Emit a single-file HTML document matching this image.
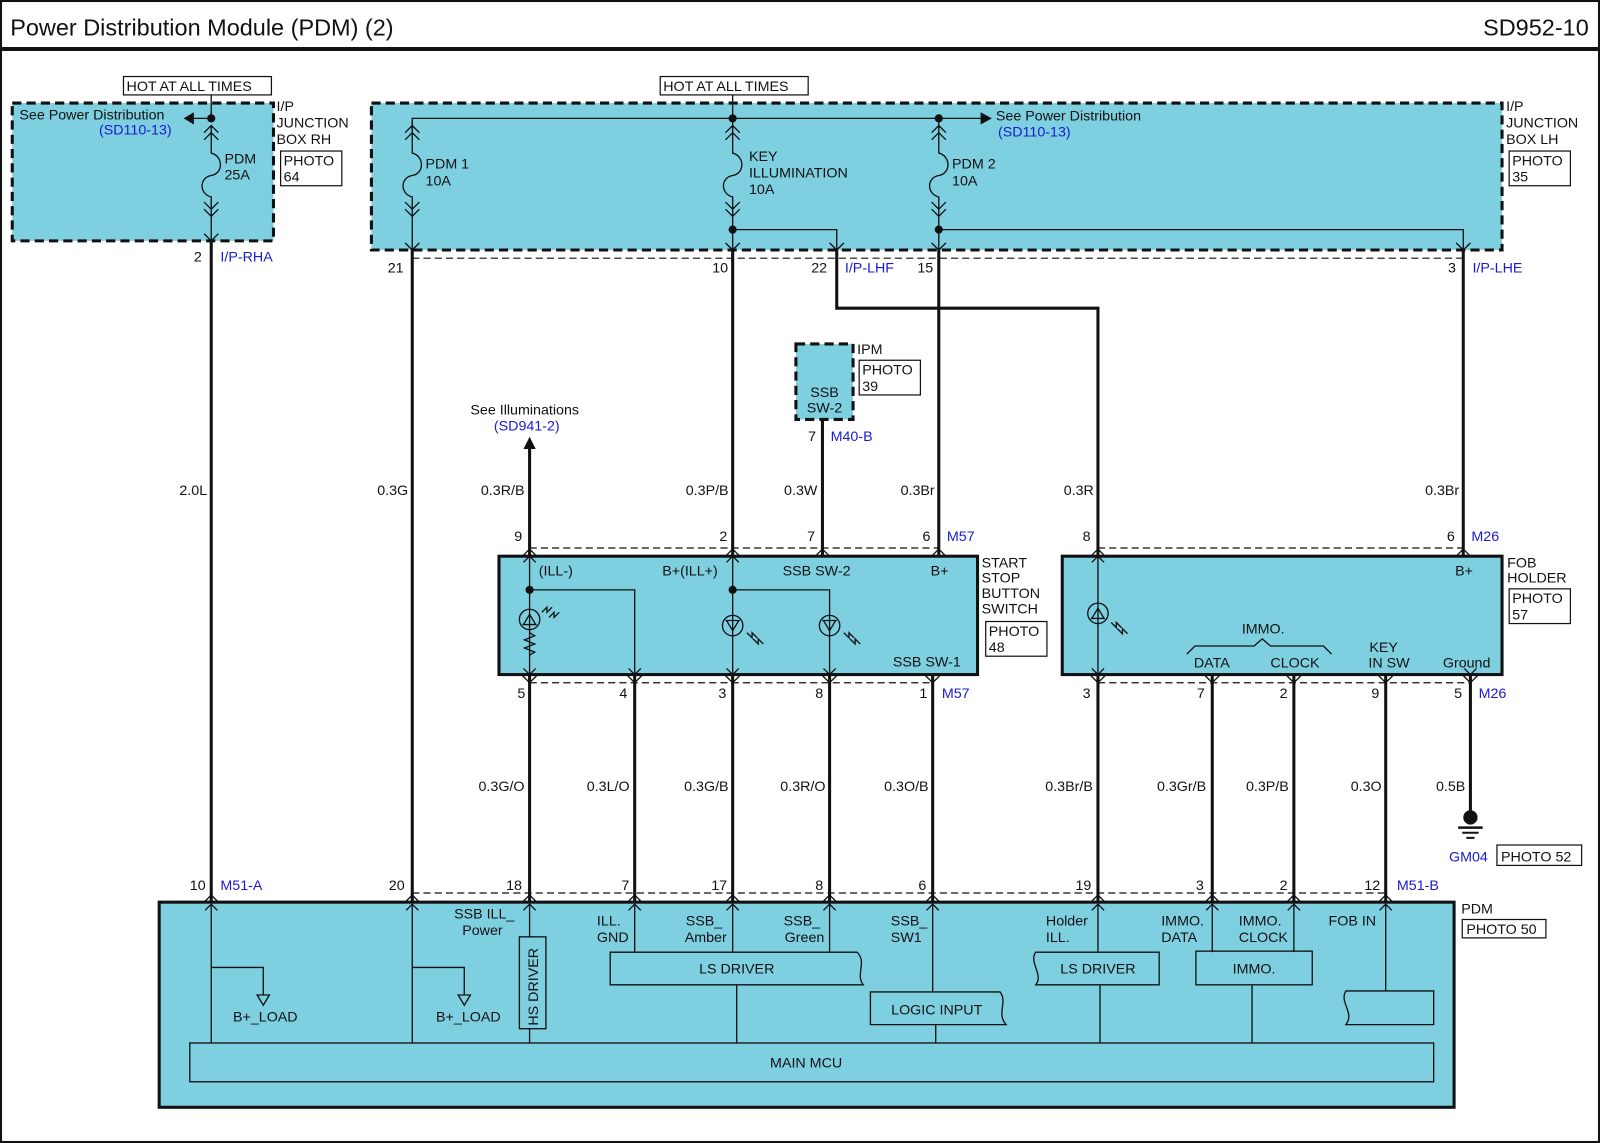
<!DOCTYPE html>
<html><head><meta charset="utf-8"><style>
html,body{margin:0;padding:0;background:#fff}
svg{display:block}
text{font-family:"Liberation Sans",sans-serif;font-size:14px;fill:#111}
.b{fill:#1a1ad0}
.w{stroke:#111;stroke-width:3;fill:none}
.t{stroke:#111;stroke-width:1.3;fill:none}
.d{stroke:#111;stroke-width:1.2;fill:none;stroke-dasharray:7 4}
.box{fill:#7ecfe0;stroke:#111;stroke-width:3}
.dbox{fill:#7ecfe0;stroke:#111;stroke-width:3;stroke-dasharray:9 5}
.lab{fill:#fff;stroke:#111;stroke-width:1.2}
.ib{fill:none;stroke:#111;stroke-width:1.3}
</style></head><body>
<svg width="1600" height="1143" viewBox="0 0 1568 1120" preserveAspectRatio="none">
<rect x="1" y="1" width="1566" height="1118" fill="#fff" stroke="#111" stroke-width="2"/>
<line x1="0" y1="48" x2="1568" y2="48" stroke="#111" stroke-width="4"/>
<text x="10" y="35" style="font-size:23px">Power Distribution Module (PDM) (2)</text>
<text x="1557" y="35" style="font-size:23px" text-anchor="end">SD952-10</text>

<rect class="dbox" x="12" y="101" width="256" height="135"/>
<rect class="lab" x="121" y="75" width="145" height="18"/><text x="124" y="89">HOT AT ALL TIMES</text>
<text x="271" y="109">I/P</text><text x="271" y="125">JUNCTION</text><text x="271" y="141">BOX RH</text>
<rect class="lab" x="275" y="148" width="60" height="34"/><text x="278" y="162">PHOTO</text><text x="278" y="178">64</text>
<text x="19" y="117">See Power Distribution</text><text class="b" x="97" y="132">(SD110-13)</text>
<line class="t" x1="207" y1="93" x2="207" y2="118"/><line class="t" x1="207" y1="116" x2="186" y2="116"/>
<polygon points="180,116 190,110 190,122" fill="#111"/><circle cx="207" cy="116" r="4" fill="#111"/>
<text x="220" y="160">PDM</text><text x="220" y="176">25A</text>
<rect class="dbox" x="364" y="101" width="1108" height="144"/>
<rect class="lab" x="647" y="75" width="145" height="18"/><text x="650" y="89">HOT AT ALL TIMES</text>
<text x="1476" y="109">I/P</text><text x="1476" y="125">JUNCTION</text><text x="1476" y="141">BOX LH</text>
<rect class="lab" x="1479" y="148" width="60" height="34"/><text x="1482" y="162">PHOTO</text><text x="1482" y="178">35</text>
<line class="t" x1="718" y1="93" x2="718" y2="118"/>
<polyline class="t" points="404,128 404,116 962,116"/>
<polygon points="972,116 961,110 961,122" fill="#111"/>
<circle cx="718" cy="116" r="4" fill="#111"/><circle cx="920" cy="116" r="4" fill="#111"/>
<text x="976" y="118">See Power Distribution</text><text class="b" x="978" y="134">(SD110-13)</text>
<text x="417" y="165">PDM 1</text><text x="417" y="182">10A</text>
<text x="734" y="158">KEY</text><text x="734" y="174">ILLUMINATION</text><text x="734" y="190">10A</text>
<text x="933" y="165">PDM 2</text><text x="933" y="182">10A</text>
<g class="t">
<path d="M200 130 L207 123 L214 130 M200 137 L207 130 L214 137 M207 123 V150 C219 153 219 170 207 172 C195 174 195 190 207 193 V212 M200 198 L207 205 L214 198 M200 205 L207 212 L214 205 M207 205 V236"/>
<path d="M397 130 L404 123 L411 130 M397 137 L404 130 L411 137 M404 118 V150 C416 153 416 170 404 172 C392 174 392 190 404 193 V212 M397 198 L404 205 L411 198 M397 205 L404 212 L411 205 M404 205 V245"/>
<path d="M711 130 L718 123 L725 130 M711 137 L718 130 L725 137 M718 118 V150 C730 153 730 170 718 172 C706 174 706 190 718 193 V212 M711 198 L718 205 L725 198 M711 205 L718 212 L725 205 M718 205 V245"/>
<path d="M913 130 L920 123 L927 130 M913 137 L920 130 L927 137 M920 118 V150 C932 153 932 170 920 172 C908 174 908 190 920 193 V212 M913 198 L920 205 L927 198 M913 205 L920 212 L927 205 M920 205 V245"/>
<polyline points="718,225 820,225 820,245"/><polyline points="920,225 1434,225 1434,245"/>
<path d="M200 229 L207 236 L214 229 M397 238 L404 245 L411 238 M711 238 L718 245 L725 238 M813 238 L820 245 L827 238 M913 238 L920 245 L927 238 M1427 238 L1434 245 L1441 238"/>
</g>
<circle cx="718" cy="225" r="4" fill="#111"/><circle cx="920" cy="225" r="4" fill="#111"/>
<line class="d" x1="404" y1="253" x2="1434" y2="253"/>
<text x="190" y="256">2</text><text class="b" x="216" y="256">I/P-RHA</text>
<text x="380" y="267">21</text><text x="698" y="267">10</text><text x="795" y="267">22</text><text class="b" x="828" y="267">I/P-LHF</text>
<text x="899" y="267">15</text><text x="1419" y="267">3</text><text class="b" x="1443" y="267">I/P-LHE</text>

<g class="w">
<line x1="207" y1="236" x2="207" y2="884"/>
<line x1="404" y1="245" x2="404" y2="884"/>
<line x1="718" y1="245" x2="718" y2="545"/>
<polyline points="820,245 820,302 1076,302 1076,545"/>
<line x1="920" y1="245" x2="920" y2="545"/>
<line x1="1434" y1="245" x2="1434" y2="545"/>
<line x1="806" y1="411" x2="806" y2="545"/>
<line x1="519" y1="438" x2="519" y2="545"/>
<line x1="519" y1="661" x2="519" y2="884"/>
<line x1="622" y1="661" x2="622" y2="884"/>
<line x1="718" y1="661" x2="718" y2="884"/>
<line x1="813" y1="661" x2="813" y2="884"/>
<line x1="914" y1="661" x2="914" y2="884"/>
<line x1="1076" y1="661" x2="1076" y2="884"/>
<line x1="1188" y1="661" x2="1188" y2="884"/>
<line x1="1268" y1="661" x2="1268" y2="884"/>
<line x1="1358" y1="661" x2="1358" y2="884"/>
<line x1="1441" y1="661" x2="1441" y2="795"/>
</g>
<polygon points="519,428 513,440 525,440" fill="#111"/>
<text x="461" y="406">See Illuminations</text><text class="b" x="484" y="422">(SD941-2)</text>
<rect class="dbox" x="780" y="337" width="56" height="74"/>
<text x="840" y="347">IPM</text>
<rect class="lab" x="842" y="353" width="60" height="34"/><text x="845" y="367">PHOTO</text><text x="845" y="383">39</text>
<text x="808" y="389" text-anchor="middle">SSB</text><text x="808" y="404" text-anchor="middle">SW-2</text>
<text x="792" y="432">7</text><text class="b" x="814" y="432">M40-B</text>
<text x="203" y="485" text-anchor="end">2.0L</text>
<text x="400" y="485" text-anchor="end">0.3G</text>
<text x="514" y="485" text-anchor="end">0.3R/B</text>
<text x="714" y="485" text-anchor="end">0.3P/B</text>
<text x="801" y="485" text-anchor="end">0.3W</text>
<text x="916" y="485" text-anchor="end">0.3Br</text>
<text x="1072" y="485" text-anchor="end">0.3R</text>
<text x="1430" y="485" text-anchor="end">0.3Br</text>
<text x="514" y="775" text-anchor="end">0.3G/O</text>
<text x="617" y="775" text-anchor="end">0.3L/O</text>
<text x="714" y="775" text-anchor="end">0.3G/B</text>
<text x="809" y="775" text-anchor="end">0.3R/O</text>
<text x="910" y="775" text-anchor="end">0.3O/B</text>
<text x="1071" y="775" text-anchor="end">0.3Br/B</text>
<text x="1182" y="775" text-anchor="end">0.3Gr/B</text>
<text x="1263" y="775" text-anchor="end">0.3P/B</text>
<text x="1354" y="775" text-anchor="end">0.3O</text>
<text x="1436" y="775" text-anchor="end">0.5B</text>

<line class="d" x1="519" y1="537" x2="920" y2="537"/>
<line class="d" x1="519" y1="669" x2="914" y2="669"/>
<rect class="box" x="489" y="545" width="469" height="116"/>
<text x="504" y="530">9</text><text x="705" y="530">2</text><text x="791" y="530">7</text><text x="904" y="530">6</text><text class="b" x="928" y="530">M57</text>
<text x="507" y="684">5</text><text x="607" y="684">4</text><text x="704" y="684">3</text><text x="799" y="684">8</text><text x="901" y="684">1</text><text class="b" x="923" y="684">M57</text>
<text x="962" y="556">START</text><text x="962" y="571">STOP</text><text x="962" y="586">BUTTON</text><text x="962" y="601">SWITCH</text>
<rect class="lab" x="966" y="609" width="60" height="34"/><text x="969" y="623">PHOTO</text><text x="969" y="639">48</text>
<text x="528" y="564">(ILL-)</text><text x="649" y="564">B+(ILL+)</text><text x="767" y="564">SSB SW-2</text><text x="912" y="564">B+</text>
<text x="875" y="653">SSB SW-1</text>
<g class="t">
<line x1="519" y1="545" x2="519" y2="661"/><polyline points="519,578 622,578 622,661"/>
<line x1="718" y1="545" x2="718" y2="661"/><polyline points="718,578 813,578 813,661"/>
<circle cx="519" cy="607" r="10"/><path d="M512 612 H526 M519 602 L513 612 M519 602 L525 612"/>
<path d="M519 620 l5 3 l-10 4 l10 4 l-10 4 l10 4 l-5 3"/>
<circle cx="718" cy="613" r="10"/><path d="M711 608 H725 M718 618 L712 608 M718 618 L724 608"/>
<circle cx="813" cy="613" r="10"/><path d="M806 608 H820 M813 618 L807 608 M813 618 L819 608"/>
<path d="M531 600 l5 -5 l0 5 l5 -5 M538 605 l5 -5 l0 5 l5 -5"/>
<path d="M732 620 l5 5 l0 -5 l5 5 M738 626 l5 5 l0 -5 l5 5"/>
<path d="M827 620 l5 5 l0 -5 l5 5 M833 626 l5 5 l0 -5 l5 5"/>
<path d="M513 551 L519 545 L525 551 M712 551 L718 545 L724 551 M513 655 L519 661 L525 655 M616 655 L622 661 L628 655 M712 655 L718 661 L724 655 M807 655 L813 661 L819 655"/>
<path d="M512 545 L519 538 L526 545 M711 545 L718 538 L725 545 M799 545 L806 538 L813 545 M913 545 L920 538 L927 545"/>
<path d="M512 662 L519 669 L526 662 M615 662 L622 669 L629 662 M711 662 L718 669 L725 662 M806 662 L813 669 L820 662 M907 662 L914 669 L921 662"/>
</g>
<circle cx="519" cy="578" r="4" fill="#111"/><circle cx="718" cy="578" r="4" fill="#111"/>

<line class="d" x1="1076" y1="537" x2="1434" y2="537"/>
<line class="d" x1="1076" y1="669" x2="1441" y2="669"/>
<rect class="box" x="1041" y="545" width="431" height="116"/>
<text x="1061" y="530">8</text><text x="1418" y="530">6</text><text class="b" x="1442" y="530">M26</text>
<text x="1061" y="684">3</text><text x="1173" y="684">7</text><text x="1254" y="684">2</text><text x="1344" y="684">9</text><text x="1425" y="684">5</text><text class="b" x="1449" y="684">M26</text>
<text x="1477" y="556">FOB</text><text x="1477" y="571">HOLDER</text>
<rect class="lab" x="1479" y="577" width="60" height="34"/><text x="1482" y="591">PHOTO</text><text x="1482" y="607">57</text>
<text x="1426" y="564">B+</text>
<text x="1217" y="621">IMMO.</text>
<text x="1170" y="654">DATA</text><text x="1245" y="654">CLOCK</text><text x="1342" y="639">KEY</text><text x="1341" y="654">IN SW</text><text x="1414" y="654">Ground</text>
<g class="t">
<path d="M1163 641 L1171 633 L1229 633 L1237 626 L1245 633 L1297 633 L1305 641"/>
<line x1="1076" y1="545" x2="1076" y2="661"/>
<circle cx="1076" cy="601" r="10"/><path d="M1069 606 H1083 M1076 596 L1070 606 M1076 596 L1082 606"/>
<path d="M1089 610 l5 5 l0 -5 l5 5 M1095 616 l5 5 l0 -5 l5 5"/>
<path d="M1070 551 L1076 545 L1082 551 M1070 655 L1076 661 L1082 655 M1435 655 L1441 661 L1447 655"/>
<path d="M1069 545 L1076 538 L1083 545 M1427 545 L1434 538 L1441 545 M1069 662 L1076 669 L1083 662 M1181 662 L1188 669 L1195 662 M1261 662 L1268 669 L1275 662 M1351 662 L1358 669 L1365 662 M1434 662 L1441 669 L1448 662"/>
</g>
<circle cx="1441" cy="801" r="7" fill="#111"/>
<line x1="1429" y1="811" x2="1453" y2="811" stroke="#111" stroke-width="2.5"/>
<line x1="1433" y1="816" x2="1449" y2="816" stroke="#111" stroke-width="2"/>
<line x1="1437" y1="821" x2="1445" y2="821" stroke="#111" stroke-width="2"/>
<text class="b" x="1420" y="844">GM04</text>
<rect class="lab" x="1467" y="828" width="83" height="20"/><text x="1471" y="844">PHOTO 52</text>

<line class="d" x1="404" y1="875" x2="1358" y2="875"/>
<rect class="box" x="156" y="884" width="1269" height="201"/>
<text x="186" y="872">10</text><text class="b" x="216" y="872">M51-A</text>
<text x="381" y="872">20</text><text x="496" y="872">18</text><text x="609" y="872">7</text><text x="697" y="872">17</text><text x="799" y="872">8</text><text x="900" y="872">6</text>
<text x="1054" y="872">19</text><text x="1172" y="872">3</text><text x="1254" y="872">2</text><text x="1337" y="872">12</text><text class="b" x="1369" y="872">M51-B</text>
<text x="1432" y="895">PDM</text>
<rect class="lab" x="1433" y="901" width="82" height="18"/><text x="1437" y="915">PHOTO 50</text>
<g class="t">
<path d="M200 884 L207 877 L214 884 M397 884 L404 877 L411 884 M512 884 L519 877 L526 884 M615 884 L622 877 L629 884 M711 884 L718 877 L725 884 M806 884 L813 877 L820 884 M907 884 L914 877 L921 884 M1069 884 L1076 877 L1083 884 M1181 884 L1188 877 L1195 884 M1261 884 L1268 877 L1275 884 M1351 884 L1358 877 L1365 884"/>
<path d="M201 892 L207 886 L213 892 M398 892 L404 886 L410 892 M513 892 L519 886 L525 892 M616 892 L622 886 L628 892 M712 892 L718 886 L724 892 M807 892 L813 886 L819 892 M908 892 L914 886 L920 892 M1070 892 L1076 886 L1082 892 M1182 892 L1188 886 L1194 892 M1262 892 L1268 886 L1274 892 M1352 892 L1358 886 L1364 892"/>
<line x1="207" y1="886" x2="207" y2="1022"/><polyline points="207,948 258,948 258,975"/><polygon points="252,975 264,975 258,985"/>
<line x1="404" y1="886" x2="404" y2="1022"/><polyline points="404,948 455,948 455,975"/><polygon points="449,975 461,975 455,985"/>
<line x1="519" y1="886" x2="519" y2="918"/><rect x="509" y="918" width="26" height="90"/><line x1="519" y1="1008" x2="519" y2="1022"/>
<line x1="622" y1="886" x2="622" y2="933"/><line x1="718" y1="886" x2="718" y2="933"/><line x1="813" y1="886" x2="813" y2="933"/>
<path d="M598 933 H840 C850 943 838 955 846 965 H598 Z"/><line x1="722" y1="965" x2="722" y2="1022"/>
<line x1="914" y1="886" x2="914" y2="972"/><path d="M853 972 H980 C988 982 976 993 986 1004 H853 Z"/><line x1="917" y1="1004" x2="917" y2="1022"/>
<line x1="1076" y1="886" x2="1076" y2="933"/><path d="M1015 933 H1136 V965 H1015 C1023 955 1008 943 1015 933 Z"/><line x1="1078" y1="965" x2="1078" y2="1022"/>
<line x1="1188" y1="886" x2="1188" y2="933"/><line x1="1268" y1="886" x2="1268" y2="933"/><rect x="1172" y="932" width="114" height="33"/><line x1="1227" y1="965" x2="1227" y2="1022"/>
<line x1="1358" y1="886" x2="1358" y2="971"/><path d="M1319 971 H1405 V1004 H1319 C1328 992 1312 982 1319 971 Z"/>
<rect x="186" y="1022" width="1219" height="38"/>
</g>
<text x="260" y="1001" text-anchor="middle">B+_LOAD</text><text x="459" y="1001" text-anchor="middle">B+_LOAD</text>
<text x="445" y="900">SSB ILL_</text><text x="453" y="916">Power</text>
<text transform="translate(527,1005) rotate(-90)">HS DRIVER</text>
<text x="585" y="907">ILL.</text><text x="585" y="923">GND</text>
<text x="672" y="907">SSB_</text><text x="671" y="923">Amber</text>
<text x="768" y="907">SSB_</text><text x="769" y="923">Green</text>
<text x="873" y="907">SSB_</text><text x="873" y="923">SW1</text>
<text x="1025" y="907">Holder</text><text x="1025" y="923">ILL.</text>
<text x="1138" y="907">IMMO.</text><text x="1138" y="923">DATA</text>
<text x="1214" y="907">IMMO.</text><text x="1214" y="923">CLOCK</text>
<text x="1302" y="907">FOB IN</text>
<text x="722" y="954" text-anchor="middle">LS DRIVER</text>
<text x="918" y="994" text-anchor="middle">LOGIC INPUT</text>
<text x="1076" y="954" text-anchor="middle">LS DRIVER</text>
<text x="1229" y="954" text-anchor="middle">IMMO.</text>
<text x="790" y="1046" text-anchor="middle">MAIN MCU</text>
</svg>
</body></html>
